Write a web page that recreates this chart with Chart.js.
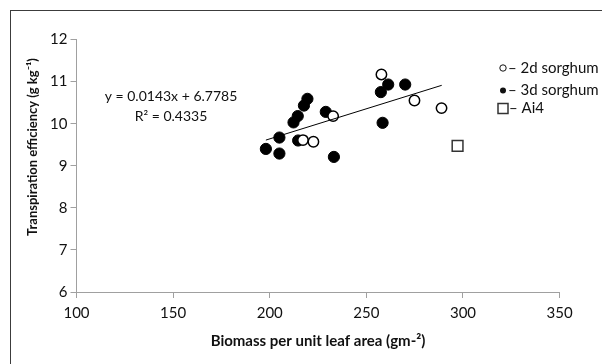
<!DOCTYPE html>
<html>
<head>
<meta charset="utf-8">
<script src="https://cdn.jsdelivr.net/npm/chart.js@4.4.0/dist/chart.umd.min.js"></script>
<style>
  html, body { margin: 0; padding: 0; background: #fff; }
  #wrap { width: 602px; height: 364px; }
</style>
</head>
<body>
<div id="wrap"><canvas id="teChart" width="602" height="364"></canvas></div>
<script>
// ── datos ──
const xTicks = [100, 150, 200, 250, 300, 350];
const yTicks = [6, 7, 8, 9, 10, 11, 12];

const sorghum2dX = [217.2, 222.6, 232.8, 257.8, 274.9, 288.9];
const sorghum2dY = [9.61, 9.57, 10.18, 11.17, 10.55, 10.37];

const sorghum3dX = [198, 205, 205, 212.3, 214.5, 217.7, 219.5, 214.7, 229, 233.2, 257.5, 261.3, 270.1, 258.4];
const sorghum3dY = [9.4, 9.67, 9.29, 10.03, 10.18, 10.43, 10.59, 9.6, 10.28, 9.21, 10.75, 10.93, 10.93, 10.02];

const ai4X = [297.2];
const ai4Y = [9.47];

// recta de tendencia y = 0.0143x + 6.7785
const trendSlope = 0.0143;
const trendIntercept = 6.7785;
const trendRange = [198, 289];

const eqText = "y = 0.0143x + 6.7785";
const r2Text = "R² = 0.4335";

const toPoints = (xs, ys) => xs.map((x, i) => ({ x: x, y: ys[i] }));

const trendPoints = trendRange.map(x => ({ x: x, y: trendSlope * x + trendIntercept }));

const axisGray = "#a0a0a0";
const font = "Lato";

// textos, leyenda y marco dibujados a mano
const decor = {
    id: "decor",
    afterDraw(chart) {
        const ctx = chart.ctx;
        ctx.save();

        // marco exterior
        ctx.strokeStyle = "#3c3c3c";
        ctx.lineWidth = 1;
        ctx.strokeRect(10.5, 10.5, 700, 700);

        ctx.fillStyle = "#111";
        ctx.textBaseline = "middle";

        // ecuación
        ctx.font = "14px " + font;
        ctx.textAlign = "center";
        ctx.fillText(eqText, 171, 96.5);
        ctx.fillText(r2Text, 171, 116.5);

        // título eje x
        ctx.font = "bold 15px " + font;
        ctx.fillText("Biomass per unit leaf area (gm-²)", 318, 341);

        // título eje y
        ctx.font = "bold 13px " + font;
        ctx.save();
        ctx.translate(33, 147);
        ctx.rotate(-Math.PI / 2);
        ctx.fillText("Transpiration efficiency (g kg⁻¹)", 0, 0);
        ctx.restore();

        // leyenda
        ctx.font = "15px " + font;
        ctx.textAlign = "left";
        ctx.strokeStyle = "#111";
        ctx.lineWidth = 1;
        ctx.beginPath();
        ctx.arc(503, 68, 3.2, 0, Math.PI * 2);
        ctx.stroke();
        ctx.fillText("– 2d sorghum", 508, 68);

        ctx.beginPath();
        ctx.arc(503, 90.5, 3, 0, Math.PI * 2);
        ctx.fill();
        ctx.fillText("– 3d sorghum", 508, 90.5);

        ctx.lineWidth = 1.5;
        ctx.strokeStyle = "#333";
        ctx.strokeRect(498, 103.5, 10, 10);
        ctx.fillText("– Ai4", 509, 108.5);

        ctx.restore();
    }
};

new Chart(document.getElementById("teChart"), {
    type: "scatter",
    data: {
        datasets: [
            {
                label: "trend",
                type: "line",
                data: trendPoints,
                borderColor: "#000",
                borderWidth: 1,
                pointRadius: 0,
                fill: false
            },
            {
                label: "2d sorghum",
                data: toPoints(sorghum2dX, sorghum2dY),
                pointRadius: 5.2,
                pointBackgroundColor: "#fff",
                pointBorderColor: "#000",
                pointBorderWidth: 1.5
            },
            {
                label: "3d sorghum",
                data: toPoints(sorghum3dX, sorghum3dY),
                pointRadius: 5.6,
                pointBackgroundColor: "#000",
                pointBorderColor: "#000",
                pointBorderWidth: 1
            },
            {
                label: "Ai4",
                data: toPoints(ai4X, ai4Y),
                pointStyle: "rect",
                pointRadius: 7.6,
                pointBackgroundColor: "#fff",
                pointBorderColor: "#333",
                pointBorderWidth: 1.5
            }
        ]
    },
    options: {
        responsive: false,
        animation: false,
        devicePixelRatio: 1,
        layout: { padding: { left: 0, right: 42.4, top: 39.5, bottom: 0 } },
        plugins: {
            legend: { display: false },
            tooltip: { enabled: false }
        },
        scales: {
            x: {
                type: "linear",
                min: xTicks[0],
                max: xTicks[xTicks.length - 1],
                afterBuildTicks: (scale) => { scale.ticks = xTicks.map(v => ({ value: v })); },
                afterFit: (scale) => { scale.height = 72; },
                grid: { drawOnChartArea: false, drawTicks: true, tickLength: 6, color: axisGray },
                border: { color: axisGray, width: 1 },
                ticks: { color: "#111", padding: 6, font: { family: font, size: 15 } }
            },
            y: {
                type: "linear",
                min: yTicks[0],
                max: yTicks[yTicks.length - 1],
                afterBuildTicks: (scale) => { scale.ticks = yTicks.map(v => ({ value: v })); },
                afterFit: (scale) => { scale.width = 76.5; },
                grid: { drawOnChartArea: false, drawTicks: true, tickLength: 6, color: axisGray },
                border: { color: axisGray, width: 1 },
                ticks: { color: "#111", padding: 3, font: { family: font, size: 15 } }
            }
        }
    },
    plugins: [decor]
});
</script>
</body>
</html>
